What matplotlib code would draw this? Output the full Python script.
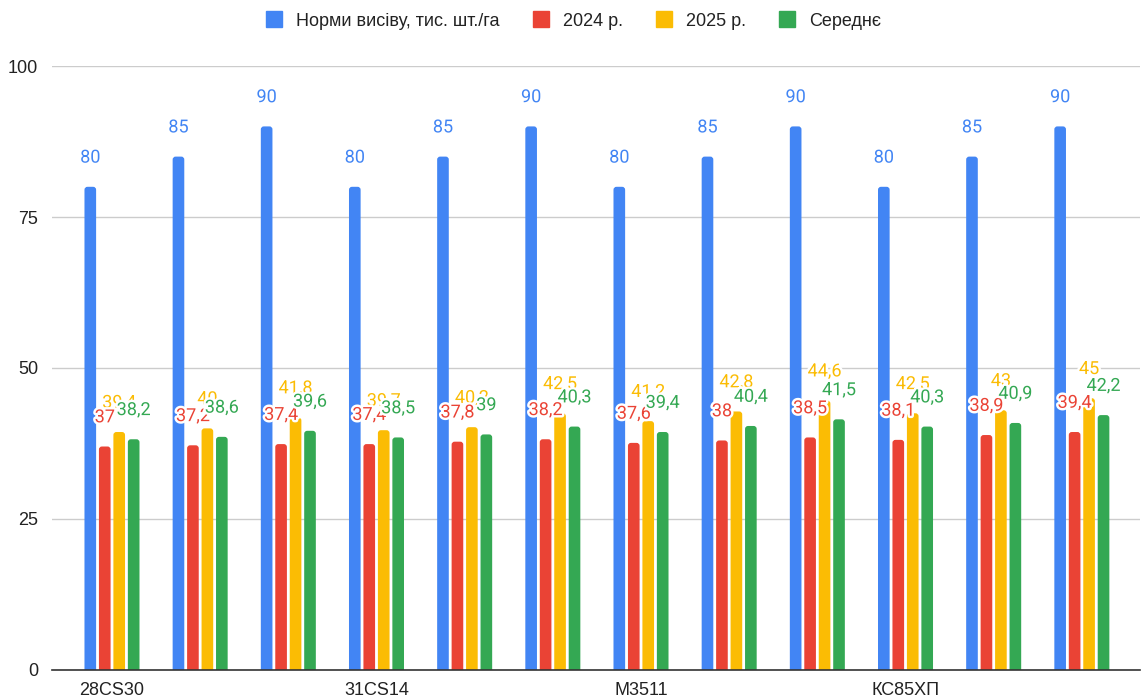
import matplotlib
matplotlib.use("Agg")
import matplotlib.pyplot as plt
import matplotlib.patheffects as pe
from matplotlib.lines import Line2D
from matplotlib.patches import FancyBboxPatch
import numpy as np

plt.rcParams['font.family'] = ['Liberation Sans', 'DejaVu Sans']

tick_labels = ["28CS30", "", "", "31CS14", "", "", "M3511", "", "", "КС85ХП", "", ""]
series_names = ["Норми висіву, тис. шт./га", "2024 р.", "2025 р.", "Середнє"]
norms = [80, 85, 90, 80, 85, 90, 80, 85, 90, 80, 85, 90]
y2024 = [37, 37.2, 37.4, 37.4, 37.8, 38.2, 37.6, 38, 38.5, 38.1, 38.9, 39.4]
y2025 = [39.4, 40, 41.8, 39.7, 40.2, 42.5, 41.2, 42.8, 44.6, 42.5, 43, 45]
avg = [38.2, 38.6, 39.6, 38.5, 39, 40.3, 39.4, 40.4, 41.5, 40.3, 40.9, 42.2]
colors = ["#4285F4", "#EA4335", "#FBBC04", "#34A853"]

fig = plt.figure(figsize=(11.46, 7.0), dpi=100)
ax = fig.add_axes([0.0454, 0.0429, 0.9494, 0.8628])

xlim = (-0.68, 11.66)
ylim = (0, 100)
ax.set_xlim(*xlim)
ax.set_ylim(*ylim)

x = np.arange(len(norms))
step = 0.164
width = 0.132
series = [norms, y2024, y2025, avg]
label_z = [6, 7, 5, 8]

# pixel scale for rounded corners
ax_w_px = 0.9494 * 1146
ax_h_px = 0.8628 * 700
x_per_px = (xlim[1] - xlim[0]) / ax_w_px
y_per_px = (ylim[1] - ylim[0]) / ax_h_px
aspect = y_per_px / x_per_px
r = 3 * x_per_px

def fmt(v):
    return ("%g" % v).replace('.', ',')

for i, (vals, c) in enumerate(zip(series, colors)):
    xs = x + (i - 1.5) * step
    bars = ax.bar(xs, vals, width=width, color=c, zorder=3, alpha=0)
    for b, v in zip(bars, vals):
        p = FancyBboxPatch((b.get_x(), -1), width, v + 1,
                           boxstyle="round,pad=0,rounding_size=%f" % r,
                           mutation_aspect=aspect, facecolor=c, edgecolor='none',
                           zorder=3, clip_on=True)
        ax.add_patch(p)
    for xi, v in zip(xs, vals):
        t = ax.annotate(fmt(v), (xi, v), xytext=(0, 21), textcoords='offset points',
                        ha='center', va='center', color=c, fontsize=13,
                        family=['Roboto', 'DejaVu Sans'], zorder=label_z[i])
        t.set_path_effects([pe.withStroke(linewidth=3.5, foreground='white')])

ax.set_yticks([0, 25, 50, 75, 100])
ax.set_xticks(x)
ax.set_xticklabels(tick_labels)
ax.grid(axis='y', color='#cccccc', linewidth=1, zorder=0)
ax.set_axisbelow(True)
for s in ['top', 'right', 'left']:
    ax.spines[s].set_visible(False)
ax.spines['bottom'].set_color('#333333')
ax.spines['bottom'].set_linewidth(1.2)
ax.spines['bottom'].set_zorder(4)
ax.tick_params(axis='both', length=0, labelsize=13, labelcolor='#222222')
ax.tick_params(axis='y', pad=10)
ax.tick_params(axis='x', pad=9)

handles = [Line2D([0], [0], marker='s', linestyle='none', markersize=11.5,
                  markerfacecolor=c, markeredgecolor=c) for c in colors]
fig.legend(handles, series_names, loc='center', bbox_to_anchor=(0.5, 0.97), ncol=4,
           frameon=False, fontsize=13, handletextpad=0.7, columnspacing=1.8,
           handlelength=1.0, labelcolor='#222222')

fig.savefig("out.png", dpi=100)
